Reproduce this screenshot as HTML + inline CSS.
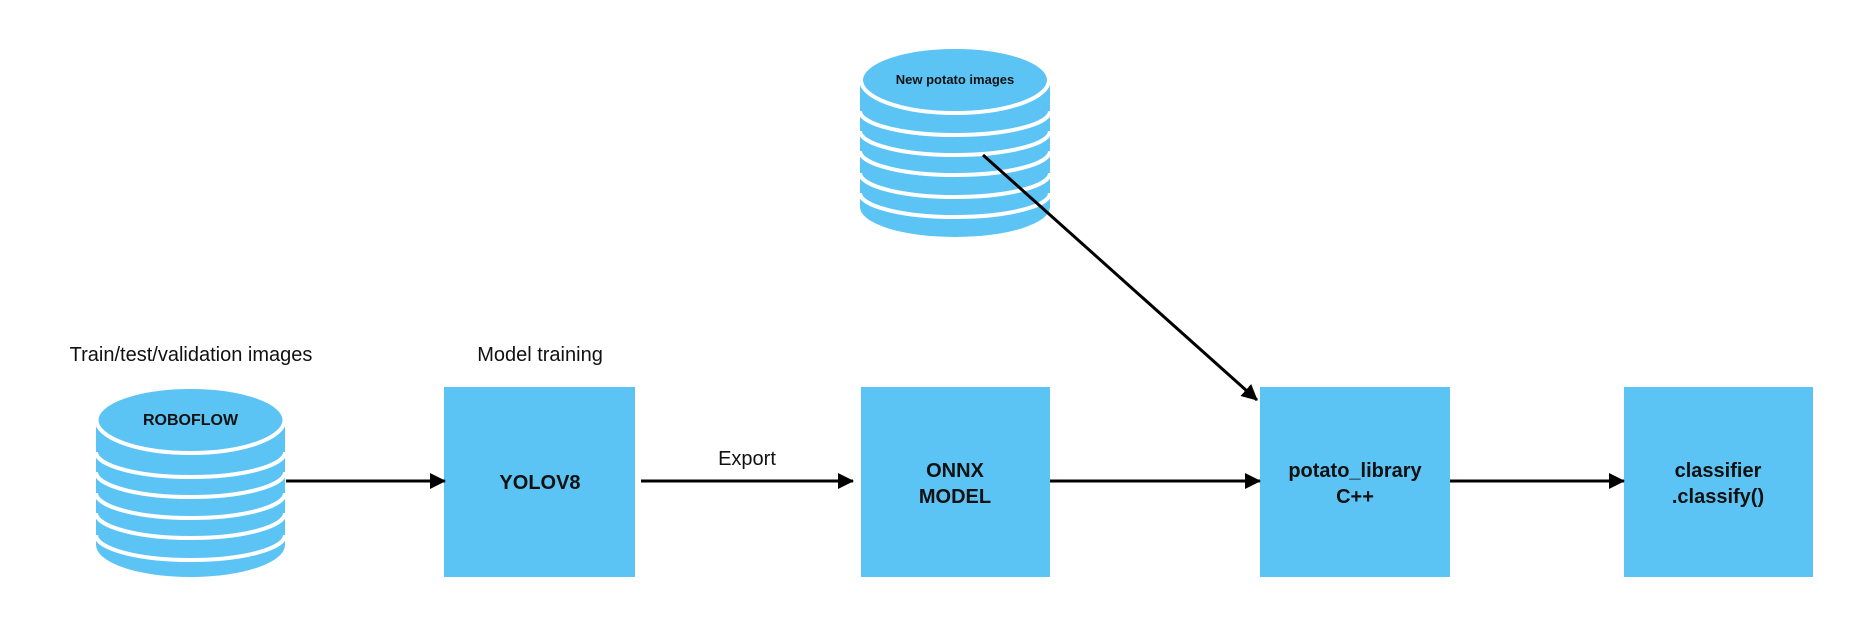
<!DOCTYPE html>
<html><head><meta charset="utf-8"><style>
html,body{margin:0;padding:0;background:#fff;}
svg{display:block;}
text{font-family:"Liberation Sans",Arial,sans-serif;fill:#111;}
</style></head><body>
<svg width="1851" height="624" viewBox="0 0 1851 624" xmlns="http://www.w3.org/2000/svg">
<defs>
<marker id="ah" markerWidth="16" markerHeight="16" refX="15" refY="8" orient="auto" markerUnits="userSpaceOnUse" viewBox="0 0 16 16">
<path d="M0,0 L16,8 L0,16 z" fill="#000"/>
</marker>
</defs>
<!-- top cylinder -->
<g fill="#5bc4f5">
<rect x="860" y="80" width="190" height="128"/>
<ellipse cx="955" cy="207" rx="95" ry="30"/>
</g>
<g fill="none" stroke="#fff" stroke-width="4">
<path d="M860,111 A95,24 0 0 0 1050,111"/>
<path d="M860,131 A95,24 0 0 0 1050,131"/>
<path d="M860,151 A95,24 0 0 0 1050,151"/>
<path d="M860,173 A95,24 0 0 0 1050,173"/>
<path d="M860,193 A95,24 0 0 0 1050,193"/>
</g>
<ellipse cx="955" cy="80" rx="94" ry="33" fill="#5bc4f5" stroke="#fff" stroke-width="4"/>
<text x="955" y="84" font-size="13" font-weight="bold" text-anchor="middle">New potato images</text>

<!-- left cylinder -->
<g fill="#5bc4f5">
<rect x="96" y="420" width="189" height="125"/>
<ellipse cx="190.5" cy="545" rx="94.5" ry="32"/>
</g>
<g fill="none" stroke="#fff" stroke-width="4">
<path d="M96,452 A94.5,25 0 0 0 285,452"/>
<path d="M96,472 A94.5,25 0 0 0 285,472"/>
<path d="M96,493 A94.5,25 0 0 0 285,493"/>
<path d="M96,513 A94.5,25 0 0 0 285,513"/>
<path d="M96,535 A94.5,25 0 0 0 285,535"/>
</g>
<ellipse cx="190.5" cy="420" rx="94" ry="33" fill="#5bc4f5" stroke="#fff" stroke-width="4"/>
<text x="190.5" y="425" font-size="16" font-weight="bold" text-anchor="middle">ROBOFLOW</text>

<text x="191" y="361" font-size="20" text-anchor="middle">Train/test/validation images</text>
<text x="540" y="361" font-size="20" text-anchor="middle">Model training</text>

<!-- boxes -->
<g fill="#5bc4f5">
<rect x="444" y="387" width="191" height="190"/>
<rect x="861" y="387" width="189" height="190"/>
<rect x="1260" y="387" width="190" height="190"/>
<rect x="1624" y="387" width="189" height="190"/>
</g>
<g font-size="20" font-weight="bold" text-anchor="middle">
<text x="540" y="489">YOLOV8</text>
<text x="955" y="477">ONNX</text>
<text x="955" y="503">MODEL</text>
<text x="1355" y="477">potato_library</text>
<text x="1355" y="503">C++</text>
<text x="1718" y="477">classifier</text>
<text x="1718" y="503">.classify()</text>
</g>
<text x="747" y="465" font-size="20" text-anchor="middle">Export</text>

<!-- arrows -->
<g stroke="#000" stroke-width="3" fill="none" marker-end="url(#ah)">
<line x1="286" y1="481" x2="445" y2="481"/>
<line x1="641" y1="481" x2="853" y2="481"/>
<line x1="1050" y1="481" x2="1260" y2="481"/>
<line x1="1450" y1="481" x2="1624" y2="481"/>
<line x1="983" y1="155" x2="1257" y2="400"/>
</g>
</svg>
</body></html>
